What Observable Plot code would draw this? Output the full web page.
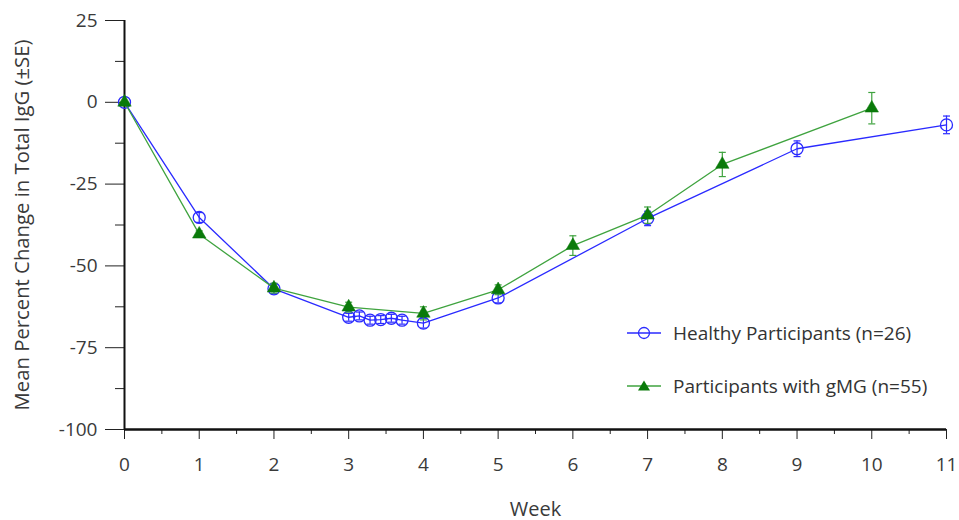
<!DOCTYPE html>
<html>
<head>
<meta charset="utf-8">
<script src="https://cdn.jsdelivr.net/npm/d3@7"></script>
<script src="https://cdn.jsdelivr.net/npm/@observablehq/plot@0.6"></script>
<style>
  html, body { margin: 0; padding: 0; background: #fff; }
  #wrap { position: relative; width: 959px; height: 520px; font-family: "Open Sans", "Noto Sans", sans-serif; color: #333; }
  .leg { position: absolute; left: 626px; font-size: 19px; display: flex; align-items: center; white-space: nowrap; line-height: 22px; }
  .leg svg { margin-right: 11px; }
</style>
</head>
<body>
<div id="wrap"></div>
<script>
// ---- data ----
const healthyWeek = [0, 1, 2, 3, 3.143, 3.286, 3.429, 3.571, 3.714, 4, 5, 7, 9, 11];
const healthyMean = [0, -35.2, -57.0, -65.7, -65.3, -66.6, -66.4, -66.0, -66.6, -67.5, -59.8, -35.5, -14.2, -6.9];
const healthySE   = [0, 1.5, 1.5, 1.2, 1.2, 1.2, 1.2, 1.2, 1.2, 1.5, 1.5, 2.2, 2.4, 2.7];

const gmgWeek = [0, 1, 2, 3, 4, 5, 6, 7, 8, 10];
const gmgMean = [0, -40.3, -56.8, -62.6, -64.5, -57.3, -43.8, -34.5, -19.0, -1.8];
const gmgSE   = [0, 1.0, 1.5, 1.5, 2.0, 1.5, 3.0, 2.5, 3.7, 4.8];

const yTicks = [-100, -75, -50, -25, 0, 25];
const yMinor = [-87.5, -62.5, -37.5, -12.5, 12.5];
const xTicks = [0, 1, 2, 3, 4, 5, 6, 7, 8, 9, 10, 11];
const xMinor = [0.5, 1.5, 2.5, 3.5, 4.5, 5.5, 6.5, 7.5, 8.5, 9.5, 10.5];

const seriesNames = ["Healthy Participants (n=26)", "Participants with gMG (n=55)"];
const xLabel = "Week";
const yLabel = "Mean Percent Change in Total IgG (\u00B1SE)";

const BLUE = "#2a2aff";
const GREEN_LINE = "#3fa33f";
const GREEN_MARK = "#0a7a0a";
const TEXT = "#3a3a3a";

const healthy = healthyWeek.map((w, i) => ({week: w, mean: healthyMean[i], lo: healthyMean[i] - healthySE[i], hi: healthyMean[i] + healthySE[i]}));
const gmg = gmgWeek.map((w, i) => ({week: w, mean: gmgMean[i], lo: gmgMean[i] - gmgSE[i], hi: gmgMean[i] + gmgSE[i]}));

const cap = { draw(ctx, size) { ctx.moveTo(-3.5, 0); ctx.lineTo(3.5, 0); } };
const withErr = (d) => d.filter(r => r.hi !== r.lo);
const noText = () => "";
const plain = (d) => String(d);

const chart = Plot.plot({
  width: 959,
  height: 520,
  marginLeft: 124,
  marginRight: 13,
  marginTop: 20,
  marginBottom: 91,
  style: { fontFamily: "'Open Sans', 'Noto Sans', sans-serif", fontSize: "18px", color: TEXT, background: "#fff" },
  x: { domain: [0, 11] },
  y: { domain: [-100, 25] },
  marks: [
    Plot.axisY(yTicks, { tickSize: 19, tickPadding: 8, fontSize: 19, tickFormat: plain, label: null, stroke: "#222", fill: TEXT }),
    Plot.axisY(yMinor, { tickSize: 9, tickFormat: noText, label: null, stroke: "#222" }),
    Plot.axisX(xTicks, { tickSize: 10, tickPadding: 18, fontSize: 19, tickFormat: plain, label: null, stroke: "#222", fill: TEXT }),
    Plot.axisX(xMinor, { tickSize: 5, tickFormat: noText, label: null, stroke: "#222" }),
    Plot.ruleX([0], { y1: -100, y2: 25, stroke: "#111", strokeWidth: 2 }),
    Plot.ruleY([-100], { x1: 0, x2: 11, stroke: "#111", strokeWidth: 2.5 }),
    Plot.text([xLabel], { frameAnchor: "bottom", dy: 86, fontSize: 20, fill: TEXT }),
    Plot.text([yLabel], { frameAnchor: "left", textAnchor: "middle", dx: -102, rotate: -90, fontSize: 20.3, fill: TEXT }),

    // Healthy
    Plot.line(healthy, { x: "week", y: "mean", stroke: BLUE, strokeWidth: 1.3 }),
    Plot.ruleX(withErr(healthy), { x: "week", y1: "lo", y2: "hi", stroke: BLUE, strokeWidth: 1.2 }),
    Plot.dot(withErr(healthy), { x: "week", y: "hi", symbol: cap, stroke: BLUE, strokeWidth: 1.2 }),
    Plot.dot(withErr(healthy), { x: "week", y: "lo", symbol: cap, stroke: BLUE, strokeWidth: 1.2 }),
    Plot.dot(healthy, { x: "week", y: "mean", r: 6, stroke: BLUE, fill: "none", strokeWidth: 1.3 }),

    // gMG
    Plot.line(gmg, { x: "week", y: "mean", stroke: GREEN_LINE, strokeWidth: 1.3 }),
    Plot.ruleX(withErr(gmg), { x: "week", y1: "lo", y2: "hi", stroke: GREEN_LINE, strokeWidth: 1.2 }),
    Plot.dot(withErr(gmg), { x: "week", y: "hi", symbol: cap, stroke: GREEN_LINE, strokeWidth: 1.2 }),
    Plot.dot(withErr(gmg), { x: "week", y: "lo", symbol: cap, stroke: GREEN_LINE, strokeWidth: 1.2 }),
    Plot.dot(gmg, { x: "week", y: "mean", r: 5, symbol: "triangle", fill: GREEN_MARK, stroke: GREEN_MARK, strokeWidth: 0.5 })
  ]
});

const wrap = document.getElementById("wrap");
wrap.appendChild(chart);

// legend
function legendRow(top, color, markerSvg, label) {
  const div = document.createElement("div");
  div.className = "leg";
  div.style.top = top + "px";
  div.innerHTML = `<svg width="36" height="16" viewBox="0 0 36 16"><line x1="1" y1="8" x2="35" y2="8" stroke="${color}" stroke-width="1.3"/>${markerSvg}</svg><span>${label}</span>`;
  wrap.appendChild(div);
}
legendRow(322, BLUE, `<circle cx="18" cy="8" r="5.5" fill="none" stroke="${BLUE}" stroke-width="1.3"/>`, seriesNames[0]);
legendRow(375, GREEN_LINE, `<path d="M18,2.5 L24,12.5 L12,12.5 Z" fill="${GREEN_MARK}"/>`, seriesNames[1]);
</script>
</body>
</html>
